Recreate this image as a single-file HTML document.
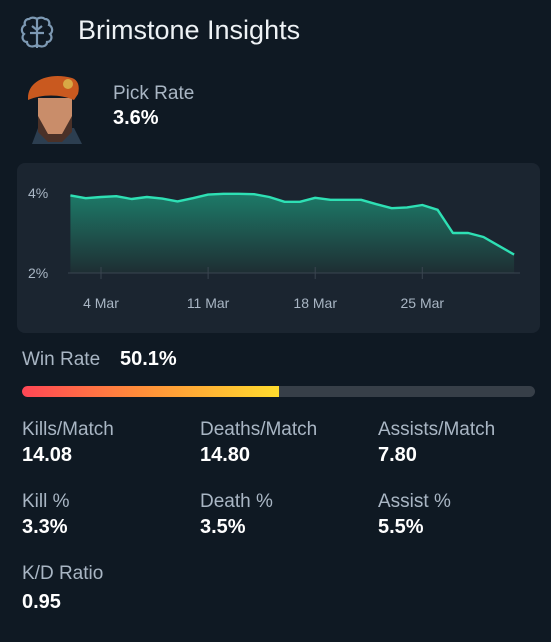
<!DOCTYPE html>
<html><head><meta charset="utf-8"><style>
body{margin:0;width:551px;height:642px;background:#0f1923;font-family:"Liberation Sans",sans-serif;overflow:hidden;position:relative;color:#fff}
.a{position:absolute}
.lab{position:absolute;color:#a9b6c4;font-size:19px}
.val{position:absolute;color:#fff;font-size:20px;font-weight:bold}
</style></head><body>
<svg class="a" style="left:20px;top:14px" width="34" height="38" viewBox="0 0 34 38" fill="none" stroke="#7d99b3" stroke-width="2.2">
<path d="M17 4v30M9 5c4-3 8 0 8 0s4-3 8 0c4 0 5 4 4 6 4 2 4 7 1 9 3 3 1 8-3 8 0 4-5 6-10 3-5 3-10 1-10-3-4 0-6-5-3-8-3-2-3-7 1-9-1-2 0-6 4-6z"/><path d="M10 19h14M12 12l5 4M22 12l-5 4"/></svg>
<div class="a" style="left:78px;top:15px;font-size:27px;color:#eef2f5">Brimstone Insights</div>
<svg class="a" style="left:24px;top:70px" width="64" height="74" viewBox="0 0 64 74">
<path d="M8 74l6-16h36l8 16z" fill="#2c3e50"/><path d="M14 28h34v26l-10 16h-14l-10-16z" fill="#c98d6a"/><path d="M14 46l10 18h14l10-18v16l-10 10h-14l-10-10z" fill="#4a3128"/><path d="M4 28c0-18 22-26 44-20 6 2 8 8 6 16l-4 6c-14-6-32-6-46 0z" fill="#c9591f"/><circle cx="44" cy="14" r="5" fill="#d8a845"/></svg>
<div class="lab" style="left:113px;top:83px;font-size:19px">Pick Rate</div>
<div class="val" style="left:113px;top:107px">3.6%</div>
<div class="a" style="left:17px;top:163px;width:523px;height:170px;background:#1b2530;border-radius:8px"></div>
<svg id="ch" class="a" style="left:0;top:160px" width="551" height="170"></svg>
<div class="lab" style="left:22px;top:349px">Win Rate</div>
<div class="val" style="left:120px;top:348px">50.1%</div>
<div class="a" style="left:22px;top:386px;width:513px;height:11px;background:#373f48;border-radius:6px;overflow:hidden"><div style="width:50.1%;height:100%;background:linear-gradient(90deg,#ff4655,#ff8c3a 45%,#ffdc2e);border-radius:6px 0 0 6px"></div></div>
<div class="lab" style="left:22px;top:419px">Kills/Match</div>
<div class="val" style="left:22px;top:444px">14.08</div>
<div class="lab" style="left:200px;top:419px">Deaths/Match</div>
<div class="val" style="left:200px;top:444px">14.80</div>
<div class="lab" style="left:378px;top:419px">Assists/Match</div>
<div class="val" style="left:378px;top:444px">7.80</div>
<div class="lab" style="left:22px;top:491px">Kill %</div>
<div class="val" style="left:22px;top:516px">3.3%</div>
<div class="lab" style="left:200px;top:491px">Death %</div>
<div class="val" style="left:200px;top:516px">3.5%</div>
<div class="lab" style="left:378px;top:491px">Assist %</div>
<div class="val" style="left:378px;top:516px">5.5%</div>
<div class="lab" style="left:22px;top:563px">K/D Ratio</div>
<div class="val" style="left:22px;top:591px">0.95</div>
<script>
const days=[2,3,4,5,6,7,8,9,10,11,12,13,14,15,16,17,18,19,20,21,22,23,24,25,26,27,28,29,30,31];
const pickRates=[3.94,3.87,3.9,3.92,3.85,3.9,3.86,3.79,3.87,3.96,3.98,3.98,3.97,3.9,3.78,3.78,3.88,3.83,3.83,3.83,3.72,3.62,3.64,3.7,3.58,3.0,3.0,2.9,2.68,2.46];
const yTicks=[2,4];
const xTickDays=[4,11,18,25];
const xTickLabels=["4 Mar","11 Mar","18 Mar","25 Mar"];
const NS="http://www.w3.org/2000/svg";
const svg=document.getElementById('ch');
const x=d=>101+(d-4)*15.3;
const y=v=>113-(v-2)*40;
function mk(t,a){const e=document.createElementNS(NS,t);for(const k in a)e.setAttribute(k,a[k]);svg.appendChild(e);return e;}
const defs=mk('defs',{});
defs.innerHTML='<linearGradient id="g" x1="0" y1="0" x2="0" y2="1"><stop offset="0" stop-color="#1d7a68"/><stop offset="1" stop-color="#1e2e33"/></linearGradient>';
let pts=days.map((d,i)=>x(d).toFixed(1)+','+y(pickRates[i]).toFixed(1));
const area=mk('path',{d:'M'+x(days[0])+','+y(2)+' L'+pts.join(' L')+' L'+x(days[days.length-1])+','+y(2)+'Z',fill:'url(#g)'});


const ax=mk('line',{x1:68,x2:520,y1:y(2),y2:y(2),stroke:'#3a4550','stroke-width':1});


const line=mk('polyline',{points:pts.join(' '),fill:'none',stroke:'#2ee0b4','stroke-width':2.4,'stroke-linejoin':'round'});


yTicks.forEach(v=>{const t=mk('text',{x:28,y:y(v)+5,fill:'#a9b6c4','font-size':14,'font-family':'Liberation Sans'});t.textContent=v+'%';

});
xTickDays.forEach((d,i)=>{const l=mk('line',{x1:x(d),x2:x(d),y1:y(2)-6,y2:y(2)+6,stroke:'#3a4550'});


const t=mk('text',{x:x(d),y:y(2)+35,fill:'#a9b6c4','font-size':14,'text-anchor':'middle','font-family':'Liberation Sans'});t.textContent=xTickLabels[i];

});
</script>
</body></html>
